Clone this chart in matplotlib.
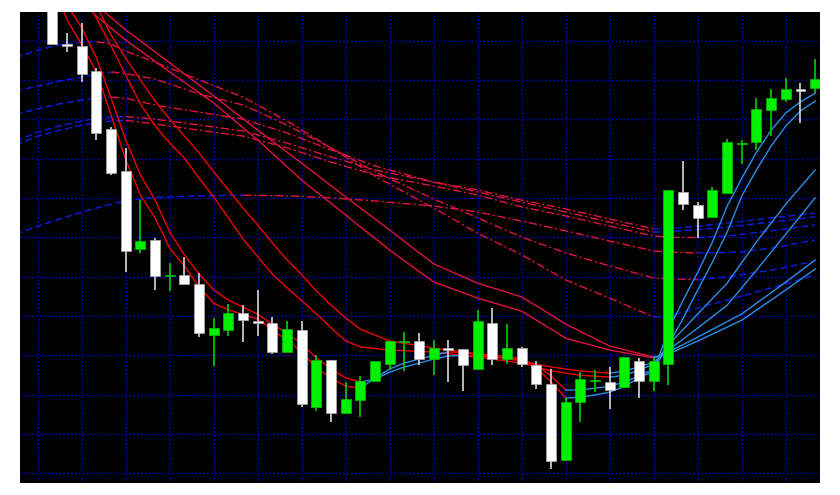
import numpy as np
import matplotlib.pyplot as plt

# ---- candles: index, open, high, low, close ----
candle_n = list(range(1, 54))
opens = [132.9, 119.2, 118.6, 112.2, 97.4, 86.9, 66.9, 69.4, 60.2, 60.3,
         58.1, 45.2, 46.5, 50.8, 48.8, 48.2, 40.7, 46.3, 26.9, 38.8,
         25.3, 28.7, 33.5, 37.7, 43.3, 43.5, 39.1, 41.9, 41.5, 36.5,
         48.1, 39.1, 41.9, 37.5, 32.7, 13.4, 28.1, 33.5, 33.1, 31.9,
         38.6, 33.5, 37.8, 81.4, 78.2, 75.2, 81.3, 93.7, 94.1, 102.4,
         105.1, 107.6, 108.0]
highs = [132.9, 122.0, 124.5, 112.9, 98.1, 92.7, 79.4, 69.8, 63.5, 65.0,
         60.8, 49.4, 53.0, 52.7, 56.6, 49.6, 48.8, 48.8, 40.1, 38.8,
         33.2, 34.7, 38.5, 43.6, 45.9, 45.6, 43.9, 43.9, 41.5, 51.5,
         51.9, 47.9, 42.2, 38.4, 36.4, 29.2, 35.6, 36.3, 37.0, 39.6,
         39.4, 39.2, 81.9, 89.4, 78.9, 82.7, 95.0, 94.7, 105.5, 107.6,
         110.4, 109.3, 115.3]
lows = [119.0, 117.1, 109.5, 94.8, 85.9, 61.2, 66.1, 56.5, 56.4, 58.1,
        44.6, 37.3, 44.9, 43.4, 44.9, 40.3, 40.7, 26.7, 25.7, 23.0,
        25.3, 24.2, 33.5, 36.3, 36.1, 37.4, 35.0, 33.1, 31.0, 36.5,
        37.4, 37.7, 36.9, 31.4, 11.1, 13.1, 23.0, 30.7, 26.3, 31.9,
        29.1, 31.0, 32.5, 76.8, 69.8, 75.2, 81.3, 88.6, 92.2, 95.8,
        104.3, 99.1, 106.6]
closes = [119.1, 118.5, 111.5, 96.4, 86.4, 66.4, 69.0, 60.2, 60.4, 58.1,
          45.7, 46.9, 50.8, 49.0, 48.1, 40.7, 46.7, 27.5, 38.8, 25.4,
          28.9, 33.5, 38.5, 43.6, 43.6, 39.1, 41.9, 41.4, 37.4, 48.8,
          39.1, 41.9, 37.7, 32.7, 13.1, 28.1, 33.9, 33.6, 31.2, 39.5,
          33.5, 38.4, 81.9, 78.5, 74.8, 81.9, 94.2, 93.9, 102.6, 105.3,
          107.6, 107.2, 110.3]

# ---- short averages (solid lines) ----
s1_n = list(range(1, 54))
s1_v = [135.4, 125.2, 118.9, 112.0, 101.1, 89.6, 80.7, 74.9, 67.2, 62.7,
        57.3, 53.2, 51.5, 50.4, 49.2, 46.4, 43.8, 40.8, 36.7, 34.2,
        32.1, 31.6, 34.2, 36.5, 38.0, 39.0, 40.0, 40.8, 40.7, 40.3,
        40.0, 39.6, 39.3, 36.7, 33.2, 29.1, 29.3, 29.9, 30.6, 32.1,
        34.2, 36.0, 46.4, 54.0, 61.1, 68.8, 77.9, 85.0, 91.6, 97.2,
        101.6, 104.4, 106.6]
s2_n = list(range(1, 54))
s2_v = [139.2, 129.0, 123.2, 115.6, 105.4, 94.7, 85.8, 79.4, 71.3, 65.5,
        60.6, 56.6, 54.0, 52.2, 50.4, 47.9, 45.6, 42.8, 39.3, 36.5,
        34.2, 33.2, 33.9, 35.7, 37.0, 38.0, 39.0, 39.8, 39.9, 39.8,
        39.5, 39.3, 38.8, 37.5, 34.7, 31.1, 31.2, 31.6, 32.1, 33.2,
        34.7, 36.5, 42.6, 49.4, 56.6, 63.7, 71.3, 80.5, 87.1, 93.2,
        98.3, 102.1, 104.6]
s3_n = [3, 4, 5, 6, 7, 8, 9, 10, 11, 12, 13, 14, 15, 16, 17, 18, 19, 20, 21, 22,
        24, 27, 30, 33, 34, 35, 37, 39, 40, 41, 42, 43, 45, 47, 49, 51, 53]
s3_v = [132.8, 125.7, 118.6, 111.2, 103.9, 98.3, 93.9, 90.1, 85.0, 80.2,
        74.9, 69.5, 65.0, 60.6, 57.1, 53.8, 50.5, 46.9, 43.6, 42.1,
        41.3, 40.8, 39.5, 38.0, 37.0, 36.0, 34.9, 34.4, 34.9, 36.2,
        37.7, 42.6, 50.5, 58.3, 68.8, 78.4, 87.1]
s4_n = s3_n
s4_v = [136.7, 129.0, 121.4, 115.5, 110.0, 104.6, 100.0, 95.7, 91.4, 86.6,
        82.0, 77.4, 73.1, 68.5, 64.2, 60.4, 56.3, 52.7, 49.4, 46.6,
        43.6, 41.8, 40.3, 38.5, 37.7, 37.0, 36.0, 35.4, 36.0, 37.0,
        38.2, 41.3, 46.9, 52.7, 61.6, 70.8, 80.0]
s56_n = [1, 3, 4, 6, 9, 12, 15, 18, 21, 24, 27, 30, 33, 36, 39, 42, 43, 45, 48, 51, 53]
s5_v = [140.5, 130.3, 126.2, 120.1, 112.0, 104.1, 94.7, 84.5, 75.6, 66.7,
        58.6, 54.5, 51.2, 44.3, 41.3, 39.3, 40.8, 44.6, 50.5, 58.6, 64.2]
s6_v = [143.0, 133.4, 129.0, 122.7, 114.3, 105.9, 97.2, 88.8, 80.2, 71.8,
        63.2, 58.3, 54.8, 47.9, 42.3, 39.5, 40.3, 43.6, 48.9, 56.6, 61.9]

# ---- long averages (dashed lines) ----
long_n = [-1.5, 0, 1.5, 3, 4, 5, 6, 8, 11, 14, 17, 20, 23, 27, 30, 33, 36,
          39, 42, 43, 45, 47, 50, 53]
l1_v = [115.6, 117.6, 118.9, 119.6, 119.7, 119.1, 117.3, 114.5, 110.0, 105.6,
        99.5, 92.7, 85.5, 77.4, 71.0, 65.5, 59.1, 54.5, 49.7, 49.9,
        52.0, 54.0, 57.1, 60.4]
l2_v = [107.2, 108.4, 109.7, 110.7, 111.4, 112.0, 111.6, 110.2, 106.4, 103.6,
        98.5, 92.7, 86.6, 79.7, 74.9, 70.0, 66.0, 62.7, 59.6, 59.4,
        59.2, 59.9, 61.6, 63.9]
l3_v = [101.3, 102.6, 103.9, 104.9, 105.4, 105.6, 105.3, 103.6, 101.8, 100.0,
        96.5, 92.2, 88.1, 84.0, 81.5, 78.9, 76.4, 73.8, 71.3, 71.4,
        71.9, 72.6, 73.8, 75.2]
l4_v = [93.4, 95.7, 97.2, 98.5, 99.1, 99.5, 99.7, 98.8, 97.2, 95.7,
        92.7, 89.1, 85.8, 83.0, 80.7, 77.7, 75.4, 72.8, 70.3, 70.0,
        69.9, 70.3, 71.6, 73.1]
l5_v = [94.4, 96.7, 98.3, 99.5, 100.2, 100.5, 100.7, 100.0, 98.5, 97.0,
        93.9, 90.4, 87.1, 84.0, 82.0, 79.4, 77.2, 74.6, 72.1, 72.2,
        72.8, 73.6, 74.9, 76.1]
l6_n = [-1.5, 0, 1.5, 3, 4, 5, 6, 8, 11, 14, 15.5, 17, 20, 23, 27, 30, 33,
        36, 39, 42, 43, 45, 47, 48, 50, 53]
l6_v = [70.8, 72.8, 74.6, 76.4, 77.4, 78.4, 79.3, 80.1, 80.5, 80.7,
        80.6, 80.5, 80.0, 79.2, 77.9, 76.4, 74.1, 71.6, 69.0, 66.5,
        66.2, 66.0, 66.1, 66.3, 67.2, 69.3]

RED = '#f00000'
CRIMSON = '#e0143c'
LIGHTBLUE = '#2a8fe8'
BLUE = '#0a1ee6'


def draw_ma(ax, xs, ys, up, down, up_ls, down_ls, lw=1.0):
    # colour every run of rising / falling segments
    xs = np.asarray(xs, float)
    ys = np.asarray(ys, float)
    rising = np.diff(ys) > 0
    start = 0
    for i in range(1, len(rising) + 1):
        if i == len(rising) or rising[i] != rising[start]:
            r = rising[start]
            ax.plot(xs[start:i + 1], ys[start:i + 1],
                    color=up if r else down,
                    linestyle=up_ls if r else down_ls,
                    lw=lw, zorder=3 if up_ls == '-' else 2)
            start = i


fig = plt.figure(figsize=(8.4, 4.95), dpi=100)
fig.patch.set_facecolor('white')
ax = fig.add_axes([20 / 840, 12 / 495, 800 / 840, 471 / 495])
ax.set_facecolor('black')
ax.set_xlim(-1.21, 53.33)
ax.set_ylim(7.5, 127.25)

# dotted grid
for gx in range(0, 53, 3):
    ax.axvline(gx, color='#0000c0', lw=1.0, ls=(0, (1.2, 1.6)), zorder=1)
for gy in range(10, 121, 10):
    ax.axhline(gy, color='#0000c0', lw=1.0, ls=(0, (1.2, 1.6)), zorder=1)

dash_dot = (0, (6, 2, 1.5, 2))
dashed = (0, (5, 2.5))
for vals, xs in [(l1_v, long_n), (l2_v, long_n), (l3_v, long_n),
                 (l4_v, long_n), (l5_v, long_n), (l6_v, l6_n)]:
    draw_ma(ax, xs, vals, BLUE, CRIMSON, dashed, dash_dot, lw=1.0)

draw_ma(ax, s56_n, s6_v, LIGHTBLUE, CRIMSON, '-', '-', lw=1.0)
draw_ma(ax, s56_n, s5_v, LIGHTBLUE, CRIMSON, '-', '-', lw=1.0)
draw_ma(ax, s4_n, s4_v, LIGHTBLUE, RED, '-', '-', lw=1.0)
draw_ma(ax, s3_n, s3_v, LIGHTBLUE, RED, '-', '-', lw=1.0)
draw_ma(ax, s2_n, s2_v, LIGHTBLUE, RED, '-', '-', lw=1.0)
draw_ma(ax, s1_n, s1_v, LIGHTBLUE, RED, '-', '-', lw=1.0)

# candles
for n, o, h, l, c in zip(candle_n, opens, highs, lows, closes):
    bull = c >= o
    col = '#00f000' if bull else '#ffffff'
    wick = '#00d000' if bull else '#d8d8d8'
    ax.vlines(n, l, h, color=wick, lw=1.2, zorder=4)
    lo, hi = min(o, c), max(o, c)
    if hi - lo < 0.4:
        mid = (hi + lo) / 2
        lo, hi = mid - 0.2, mid + 0.2
    ax.bar(n, hi - lo, bottom=lo, width=0.68, color=col,
           edgecolor='#b0b0b0' if not bull else '#00c000', lw=0.5, zorder=5)

ax.set_xticks([])
ax.set_yticks([])
for s in ax.spines.values():
    s.set_visible(False)

fig.savefig('out.png', dpi=100, facecolor='white')
